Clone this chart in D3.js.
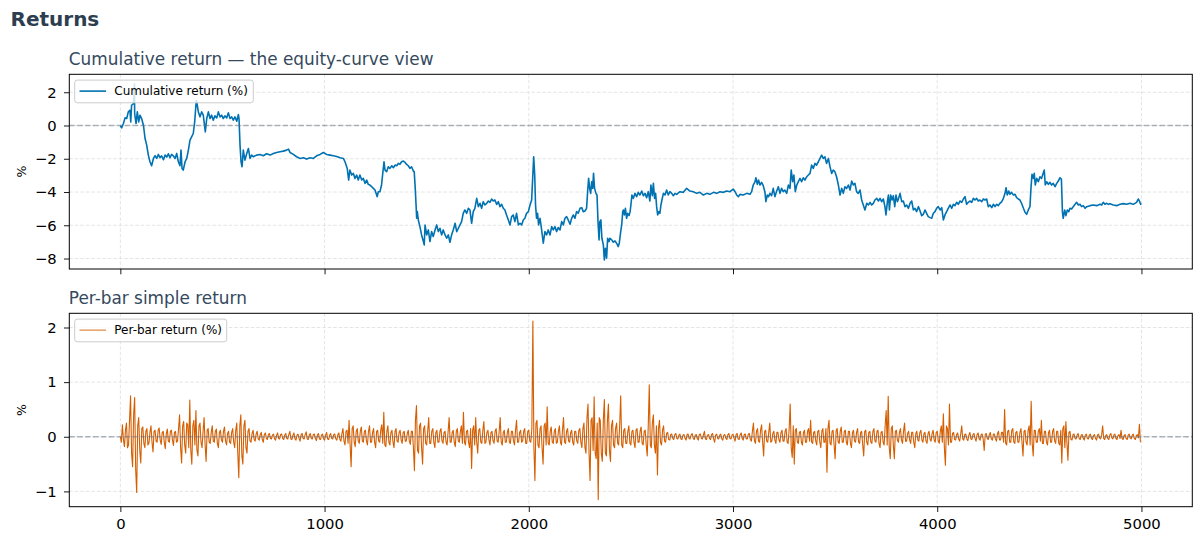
<!DOCTYPE html>
<html>
<head>
<meta charset="utf-8">
<script src="https://cdn.jsdelivr.net/npm/d3@7/dist/d3.min.js"></script>
<style>
    body { margin: 0; background: #ffffff; }
    text { font-family: "DejaVu Sans", sans-serif; }
</style>
</head>
<body>
<div id="chart"></div>
<script>
// ---------------------------------------------------------------------------
// DATOS (leídos a ojo del gráfico original)
// ---------------------------------------------------------------------------
var chartTitle = "Returns";
var cumTitle = "Cumulative return \u2014 the equity-curve view";
var retTitle = "Per-bar simple return";
var cumLabel = "Cumulative return (%)";
var retLabel = "Per-bar return (%)";

// retorno acumulado (%): barra y valor
var cumBar = [
    0, 6, 15, 23, 31, 39, 47, 51, 55, 64,
    67, 69, 70, 77, 83, 90, 96, 104, 113, 121,
    129, 137, 145, 153, 162, 170, 178, 186, 194, 202,
    211, 219, 227, 235, 243, 251, 259, 268, 276, 284,
    292, 297, 302, 308, 317, 325, 333, 341, 349, 357,
    364, 370, 372, 374, 382, 390, 398, 406, 415, 416,
    423, 431, 439, 447, 455, 463, 472, 480, 488, 496,
    504, 512, 521, 529, 537, 545, 553, 561, 570, 578,
    581, 586, 591, 596, 602, 610, 619, 627, 635, 643,
    651, 667, 684, 700, 716, 733, 749, 765, 782, 798,
    814, 823, 831, 847, 863, 880, 896, 912, 929, 945,
    961, 978, 994, 1010, 1027, 1043, 1059, 1076, 1092, 1100,
    1111, 1118, 1124, 1133, 1141, 1149, 1157, 1165,
    1173, 1182, 1190, 1198, 1206, 1214, 1222, 1231, 1239, 1247,
    1255, 1258, 1263, 1271, 1279, 1284, 1291, 1296, 1304, 1312,
    1320, 1329, 1337, 1345, 1353, 1361, 1369, 1377, 1386, 1394,
    1402, 1410, 1418, 1426, 1435, 1439, 1444, 1448, 1451, 1454,
    1459, 1467, 1475, 1484, 1488, 1492, 1500, 1508, 1516, 1524,
    1532, 1541, 1549, 1557, 1565, 1573, 1581, 1590, 1598, 1606,
    1614, 1622, 1630, 1639, 1647, 1655, 1663, 1671, 1679, 1687,
    1696, 1704, 1712, 1720, 1728, 1736, 1745, 1753, 1761, 1769,
    1777, 1785, 1794, 1802, 1810, 1818, 1826, 1834, 1843, 1851,
    1859, 1867, 1875, 1883, 1891, 1900, 1908, 1916, 1924, 1932,
    1940, 1949, 1957, 1965, 1973, 1981, 1989, 1998, 2006, 2014,
    2019, 2024, 2029, 2033, 2038, 2043, 2048, 2055, 2063, 2071,
    2079, 2087, 2095, 2104, 2112, 2120, 2128, 2136, 2144, 2153,
    2161, 2169, 2177, 2185, 2193, 2202, 2210, 2218, 2226, 2234,
    2242, 2251, 2259, 2267, 2275, 2283, 2288, 2293, 2298, 2303,
    2308, 2313, 2317, 2322, 2329, 2334, 2339, 2344, 2348, 2353,
    2358, 2365, 2370, 2375, 2381, 2386, 2393, 2397,
    2406, 2414, 2422, 2430, 2438, 2443, 2450, 2455, 2460, 2463,
    2468, 2473, 2479, 2484, 2491, 2496, 2500, 2505, 2512, 2520,
    2528, 2536, 2544, 2553, 2561, 2569, 2577, 2585, 2593, 2598,
    2605, 2610, 2616, 2621, 2626, 2631, 2637, 2642, 2647, 2652,
    2659, 2667, 2675, 2683, 2691, 2700, 2708, 2716, 2724, 2740,
    2757, 2773, 2789, 2806, 2822, 2838, 2855, 2871, 2887, 2904,
    2920, 2936, 2953, 2969, 2985, 3001, 3010, 3018, 3026, 3034,
    3050, 3067, 3083, 3091, 3099, 3108, 3112, 3119, 3125, 3132,
    3140, 3148, 3156, 3161, 3168, 3174, 3181, 3189, 3197, 3205,
    3214, 3222, 3230, 3238, 3246, 3254, 3263, 3271, 3279, 3285,
    3292, 3298, 3305, 3312, 3320, 3328, 3336, 3344, 3352, 3361,
    3369, 3377, 3385, 3393, 3401, 3409, 3418, 3426, 3434, 3442,
    3450, 3458, 3467, 3475, 3483, 3491, 3499, 3507, 3516, 3524,
    3532, 3540, 3548, 3556, 3565, 3573, 3581, 3589, 3597, 3605, 3613,
    3622, 3630, 3638, 3646, 3655, 3663, 3671, 3679, 3687, 3695,
    3704, 3712, 3720, 3728, 3736, 3744, 3749, 3756, 3761, 3766,
    3772, 3779, 3785, 3792, 3798, 3805, 3811, 3818, 3826, 3834,
    3842, 3850, 3859, 3867, 3875, 3883, 3891, 3899, 3908, 3916,
    3924, 3932, 3940, 3948, 3956, 3965, 3973, 3981, 3989, 3997,
    4005, 4014, 4022, 4030, 4038, 4046, 4054, 4063, 4071, 4079,
    4087, 4095, 4103, 4112, 4120, 4128, 4136, 4144, 4152, 4160,
    4169, 4177, 4185, 4193, 4201, 4209, 4218, 4226, 4234, 4242,
    4250, 4258, 4267, 4275, 4283, 4291, 4299, 4307, 4316, 4324,
    4332, 4337, 4343, 4350, 4356, 4364, 4373, 4381, 4389, 4397,
    4405, 4413, 4422, 4430, 4438, 4446, 4454, 4459, 4464, 4471,
    4475, 4480, 4487, 4495, 4503, 4511, 4520, 4524, 4529, 4536,
    4544, 4552, 4560, 4568, 4577, 4585, 4593, 4601, 4608, 4613,
    4617, 4624, 4630, 4637, 4644, 4650, 4658, 4666, 4675, 4683,
    4691, 4699, 4707, 4715, 4724, 4732, 4748, 4764, 4781, 4797,
    4805, 4813, 4821, 4830, 4838, 4846, 4862, 4879, 4895, 4911,
    4928, 4944, 4960, 4976, 4985, 4990, 4996, 4999
];
var cumRet = [
    0, -0.14, 0.12, 0.46, 0.42, 0.82, 0.92, 0.22, 1.22, 1.32,
    1.8, 2.5, 0.72, 0.12, 0.82, 0.22, 0.62, 0.42, 0.02, -0.78,
    -1.18, -1.78, -2.18, -2.42, -1.98, -1.82, -1.98, -1.74, -1.94, -1.82,
    -2.06, -1.78, -1.9, -1.7, -1.94, -1.74, -1.82, -1.98, -1.68, -2.18,
    -2.42, -1.48, -2.58, -2.68, -2.18, -1.98, -1.48, -0.88, -0.68, -0.48,
    0.22, 1.22, 1.52, 1.42, 0.82, 0.52, 0.82, 0.62, -0.28, -0.38,
    0.42, 0.82, 0.42, 0.62, 0.32, 0.58, 0.46, 0.82, 0.52, 0.62,
    0.42, 0.58, 0.46, 0.76, 0.42, 0.52, 0.32, 0.52, 0.26, 0.66,
    0.42, -1.18, -2.18, -2.48, -1.48, -2.08, -1.68, -1.38, -1.98, -1.78,
    -1.88, -1.78, -1.74, -1.82, -1.7, -1.78, -1.68, -1.62, -1.58, -1.54,
    -1.48, -1.42, -1.62, -1.74, -1.88, -1.98, -1.94, -2.02, -1.94, -1.98,
    -1.82, -1.74, -1.62, -1.74, -1.78, -1.82, -1.86, -1.94, -1.98, -2.18,
    -2.58, -3.28, -2.68, -2.98, -2.88, -3.18, -2.98, -3.28,
    -2.98, -3.28, -3.18, -3.48, -3.28, -3.54, -3.58, -3.68, -3.78, -3.88,
    -4.18, -4.28, -3.98, -3.98, -3.58, -2.98, -2.18, -2.68, -2.78, -2.48,
    -2.58, -2.42, -2.54, -2.38, -2.42, -2.28, -2.34, -2.18, -2.14, -2.22,
    -2.34, -2.42, -2.58, -2.48, -2.74, -2.78, -3.78, -4.78, -5.58, -5.18,
    -5.68, -6.08, -6.58, -6.98, -7.18, -5.98, -6.58, -6.28, -6.98, -6.38,
    -6.68, -6.28, -5.98, -6.38, -6.18, -6.58, -6.28, -6.58, -6.78, -6.58,
    -7.02, -6.58, -6.28, -5.88, -6.38, -6.18, -5.98, -5.78, -5.28, -5.08,
    -5.28, -4.98, -5.08, -5.88, -5.18, -4.98, -4.38, -4.88, -4.68, -4.98,
    -4.58, -4.78, -4.68, -4.54, -4.62, -4.42, -4.54, -4.48, -4.74, -4.58,
    -4.88, -4.74, -4.98, -5.08, -5.38, -5.68, -5.98, -5.48, -5.38, -5.78,
    -5.28, -5.98, -5.88, -5.98, -5.68, -5.58, -5.28, -5.18, -4.78, -4.48,
    -3.18, -1.88, -2.98, -4.78, -5.58, -5.28, -5.98, -5.58, -6.28, -7.08,
    -6.38, -6.58, -6.28, -6.58, -6.08, -6.28, -6.08, -6.38, -6.14, -6.28,
    -5.78, -5.98, -5.58, -5.48, -5.68, -5.94, -5.58, -5.38, -5.58, -5.18,
    -5.28, -4.98, -4.94, -5.18, -5.14, -4.98, -3.98, -3.18, -3.78, -4.08,
    -3.38, -3.78, -2.88, -3.78, -4.08, -4.18, -5.78, -6.88, -5.78, -5.68,
    -6.78, -7.18, -8.08, -7.38, -7.98, -6.78, -6.98, -6.78,
    -6.88, -7.02, -6.94, -7.08, -7.28, -7.08, -6.38, -5.98, -5.18, -5.08,
    -5.38, -4.98, -5.58, -5.28, -5.42, -5.18, -4.78, -4.18, -4.38, -4.08,
    -4.28, -4.02, -4.18, -3.94, -4.22, -4.08, -4.34, -3.98, -4.54, -3.58,
    -4.22, -3.48, -4.38, -4.08, -4.88, -5.38, -5.18, -5.28, -4.78, -4.48,
    -4.08, -4.18, -3.88, -4.18, -3.98, -4.08, -4.22, -4.08, -4.14, -3.98,
    -4.02, -3.78, -3.94, -3.98, -4.08, -4.02, -4.18, -4.08, -4.14, -4.02,
    -4.08, -3.98, -4.02, -3.94, -3.98, -3.82, -3.98, -4.18, -4.28, -4.14,
    -4.18, -4.08, -4.14, -3.98, -3.58, -3.38, -3.14, -3.54, -3.28, -3.58,
    -3.42, -3.62, -3.98, -4.58, -4.18, -4.28, -4.08, -4.22, -3.78, -4.28,
    -3.94, -3.68, -4.08, -3.78, -3.98, -3.88, -4.08, -3.58, -3.78, -2.68,
    -3.38, -2.98, -3.98, -3.58, -3.38, -3.18, -3.38, -3.14, -3.28, -3.08,
    -2.98, -2.88, -2.38, -2.58, -2.28, -2.38, -2.18, -1.98, -1.78, -1.98,
    -1.88, -2.28, -1.98, -2.48, -2.88, -2.68, -2.78, -3.08, -3.58, -4.18,
    -3.78, -4.08, -3.68, -3.78, -3.58, -3.88, -3.34, -3.58, -3.48, -3.98, -4.08,
    -3.88, -4.48, -4.78, -5.08, -4.68, -4.78, -4.62, -4.78, -4.68, -4.48,
    -4.38, -4.54, -4.38, -4.58, -4.42, -4.88, -5.38, -4.58, -4.18, -5.08,
    -4.18, -4.48, -4.22, -4.88, -4.18, -4.58, -4.38, -4.08, -4.58, -4.54,
    -4.88, -4.78, -4.98, -4.68, -4.54, -5.08, -4.98, -5.18, -4.88, -5.14,
    -5.42, -5.34, -5.08, -5.28, -5.48, -5.54, -5.58, -5.28, -5.18, -4.98,
    -4.88, -5.08, -4.94, -5.68, -5.38, -5.18, -4.98, -4.78, -4.98, -4.74,
    -4.82, -4.62, -4.74, -4.54, -4.62, -4.42, -4.28, -4.74, -4.62, -4.54,
    -4.62, -4.38, -4.48, -4.38, -4.54, -4.48, -4.58, -4.42, -4.48, -4.42,
    -4.88, -4.78, -4.94, -4.74, -4.88, -4.74, -4.82, -4.68, -4.58, -4.38,
    -4.08, -3.74, -4.18, -3.94, -4.14, -4.02, -4.18, -4.14, -4.34, -4.42,
    -4.48, -4.68, -4.98, -5.22, -5.34, -5.08, -4.88, -3.78, -2.94, -3.18,
    -2.88, -3.58, -3.18, -3.38, -3.08, -3.18, -2.82, -2.68, -3.58, -3.38,
    -3.54, -3.42, -3.58, -3.48, -3.68, -3.48, -3.34, -3.14, -3.22, -5.18,
    -5.58, -5.08, -5.42, -5.08, -5.18, -4.98, -5.02, -4.88, -4.74, -4.62,
    -4.78, -4.74, -4.88, -4.82, -4.98, -4.88, -4.82, -4.78, -4.82, -4.74,
    -4.78, -4.62, -4.74, -4.68, -4.74, -4.70, -4.78, -4.82, -4.74, -4.70,
    -4.74, -4.68, -4.74, -4.62, -4.42, -4.54, -4.74, -4.68
];

// retorno por barra (%): un valor cada retStep barras (40 valores = 200 barras por fila)
var retStep = 5;
var perBarRet = [
    0.0, -0.1, 0.22, -0.05, -0.18, 0.12, 0.25, -0.2, -0.15, 0.3, 0.75, -0.3, -0.55, 0.4, 0.72, -0.6, -1.02, 0.2, 0.35, -0.25,
    -0.48, 0.15, 0.18, -0.12, -0.2, 0.1, 0.15, -0.15, -0.12, 0.08, 0.2, -0.1, -0.28, 0.1, 0.12, -0.08, -0.1, 0.12, 0.16, -0.06,
    -0.14, 0.08, 0.1, -0.1, -0.22, 0.06, 0.14, -0.08, -0.1, 0.1, 0.12, -0.06, -0.16, 0.08, 0.1, -0.1, -0.08, 0.15, 0.4, -0.2,
    -0.48, 0.2, 0.28, -0.15, -0.3, 0.25, 0.22, -0.2, 0.67, -0.25, -0.5, 0.2, 0.3, -0.15, 0.48, -0.25, -0.35, 0.2, 0.25, -0.1,
    -0.2, 0.1, 0.35, -0.15, -0.45, 0.12, 0.15, -0.1, -0.12, 0.08, 0.2, -0.08, -0.1, 0.1, 0.14, -0.12, -0.2, 0.08, 0.12, -0.06,
    -0.1, 0.1, 0.18, -0.08, -0.15, 0.06, 0.1, -0.1, -0.12, 0.08, 0.15, -0.1, -0.2, 0.12, 0.25, -0.3, -0.75, 0.2, 0.4, -0.35,
    -0.5, 0.2, 0.3, -0.2, -0.3, 0.1, 0.15, -0.08, -0.1, 0.06, 0.12, -0.05, -0.08, 0.05, 0.1, -0.04, -0.06, 0.04, 0.08, -0.05,
    -0.1, 0.04, 0.07, -0.03, -0.05, 0.04, 0.06, -0.03, -0.04, 0.03, 0.05, -0.04, -0.06, 0.03, 0.07, -0.03, -0.04, 0.04, 0.05, -0.03,
    -0.05, 0.03, 0.06, -0.03, -0.04, 0.04, 0.1, -0.04, -0.05, 0.03, 0.07, -0.04, -0.06, 0.03, 0.05, -0.03, -0.08, 0.04, 0.06, -0.03,
    -0.04, 0.04, 0.09, -0.04, -0.05, 0.03, 0.06, -0.03, -0.04, 0.04, 0.05, -0.03, -0.07, 0.03, 0.06, -0.04, -0.05, 0.03, 0.05, -0.04,
    -0.06, 0.03, 0.08, -0.04, -0.05, 0.03, 0.06, -0.03, -0.04, 0.04, 0.05, -0.04, -0.06, 0.04, 0.07, -0.05, -0.08, 0.06, 0.15, -0.08,
    -0.15, 0.1, 0.12, -0.12, 0.3, -0.15, -0.55, 0.15, 0.2, -0.1, -0.18, 0.1, 0.15, -0.08, -0.12, 0.1, 0.18, -0.08, -0.1, 0.1,
    0.12, -0.08, -0.15, 0.1, 0.2, -0.1, -0.1, 0.08, 0.15, -0.1, -0.2, 0.1, 0.12, -0.08, -0.1, 0.12, 0.22, -0.12, 0.45, -0.15,
    -0.18, 0.1, 0.2, -0.1, -0.15, 0.08, 0.12, -0.1, -0.2, 0.1, 0.15, -0.08, -0.1, 0.08, 0.12, -0.06, -0.12, 0.08, 0.1, -0.08,
    -0.08, 0.06, 0.12, -0.08, -0.14, 0.1, 0.1, -0.2, -0.62, 0.3, 0.57, -0.25, -0.3, 0.2, 0.25, -0.2, -0.5, 0.15, 0.2, -0.12,
    -0.15, 0.1, 0.35, -0.12, -0.12, 0.1, 0.15, -0.1, -0.2, 0.08, 0.12, -0.1, -0.1, 0.1, 0.15, -0.08, -0.12, 0.08, 0.1, -0.1,
    -0.15, 0.1, 0.35, -0.1, -0.1, 0.08, 0.12, -0.1, -0.18, 0.1, 0.15, -0.08, -0.1, 0.1, 0.2, -0.12, 0.45, -0.1, -0.15, 0.1,
    0.12, -0.1, -0.2, 0.15, -0.58, 0.12, 0.2, -0.15, 0.35, -0.1, -0.3, 0.12, 0.15, -0.1, -0.12, 0.12, 0.28, -0.12, -0.1, 0.08,
    0.12, -0.06, -0.15, 0.08, 0.1, -0.08, -0.12, 0.1, 0.15, -0.08, -0.1, 0.1, 0.35, -0.1, -0.15, 0.08, 0.12, -0.1, -0.1, 0.08,
    0.15, -0.1, -0.12, 0.1, 0.1, -0.08, -0.15, 0.12, 0.3, -0.1, -0.1, 0.08, 0.12, -0.1, -0.08, 0.1, 0.15, -0.12, -0.12, 0.1,
    0.12, -0.08, -0.1, 0.15, 2.12, -0.2, -0.8, 0.25, 0.3, -0.15, -0.2, 0.15, 0.2, -0.2, -0.5, 0.2, 0.25, -0.15, 0.55, -0.12,
    -0.15, 0.1, 0.18, -0.1, -0.12, 0.1, 0.15, -0.12, -0.1, 0.1, 0.2, -0.1, -0.15, 0.12, 0.35, -0.1, -0.12, 0.1, 0.15, -0.08,
    -0.1, 0.08, 0.12, -0.1, -0.15, 0.1, 0.1, -0.08, -0.12, 0.12, 0.15, -0.1, -0.2, 0.15, 0.25, -0.2, -0.3, 0.35, 0.6, -0.3,
    -0.8, 0.3, 0.35, -0.25, 0.73, -0.3, -0.4, 0.25, -1.15, 0.35, 0.3, -0.3, -0.45, 0.3, 0.68, -0.3, -0.35, 0.3, 0.6, -0.25,
    -0.45, 0.2, 0.3, -0.15, -0.2, 0.15, 0.25, -0.12, -0.15, 0.2, 0.75, -0.15, -0.2, 0.12, 0.15, -0.12, -0.12, 0.1, 0.2, -0.12,
    -0.15, 0.1, 0.12, -0.1, -0.2, 0.12, 0.15, -0.1, -0.1, 0.1, 0.18, -0.12, -0.15, 0.1, 0.12, -0.15, -0.35, 0.2, 0.95, -0.15,
    -0.2, 0.25, 0.4, -0.15, -0.3, 0.2, -0.7, 0.15, 0.3, -0.1, -0.15, 0.12, 0.2, -0.08, -0.1, 0.06, 0.08, -0.05, -0.06, 0.04,
    0.05, -0.03, -0.05, 0.04, 0.06, -0.03, -0.04, 0.03, 0.05, -0.04, -0.05, 0.03, 0.04, -0.03, -0.06, 0.04, 0.05, -0.03, -0.04, 0.03,
    0.06, -0.03, -0.05, 0.03, 0.04, -0.03, -0.06, 0.04, 0.05, -0.03, -0.04, 0.03, 0.1, -0.04, -0.05, 0.03, 0.04, -0.03, -0.05, 0.04,
    0.06, -0.04, -0.1, 0.03, 0.05, -0.03, -0.04, 0.03, 0.05, -0.04, -0.06, 0.03, 0.04, -0.03, -0.05, 0.04, 0.06, -0.03, -0.04, 0.03,
    0.05, -0.03, -0.08, 0.04, 0.06, -0.04, -0.05, 0.04, 0.07, -0.03, -0.06, 0.04, 0.05, -0.04, -0.04, 0.05, 0.06, -0.05, -0.08, 0.1,
    0.25, -0.08, -0.12, 0.1, 0.15, -0.08, -0.1, 0.12, 0.22, -0.1, -0.35, 0.1, 0.12, -0.08, -0.1, 0.08, 0.25, -0.1, -0.08, 0.06,
    0.1, -0.06, -0.12, 0.08, 0.08, -0.06, -0.1, 0.08, 0.12, -0.08, -0.08, 0.1, 0.15, -0.1, -0.12, 0.15, 0.6, -0.2, -0.38, 0.2,
    -0.5, 0.12, 0.15, -0.1, -0.12, 0.08, 0.1, -0.1, -0.15, 0.08, 0.12, -0.1, -0.1, 0.1, 0.15, -0.08, 0.3, -0.1, -0.12, 0.08,
    0.1, -0.08, -0.15, 0.1, 0.12, -0.1, -0.2, 0.1, 0.15, -0.1, -0.1, 0.15, -0.65, 0.15, 0.3, -0.12, -0.15, 0.1, 0.12, -0.15,
    -0.4, 0.12, 0.15, -0.1, -0.12, 0.1, 0.18, -0.1, -0.1, 0.1, 0.12, -0.1, -0.15, 0.1, 0.1, -0.12, -0.2, 0.08, 0.12, -0.08,
    -0.1, 0.08, 0.15, -0.1, -0.12, 0.08, 0.1, -0.15, -0.35, 0.1, 0.12, -0.1, -0.15, 0.08, 0.1, -0.1, -0.12, 0.1, 0.15, -0.08,
    -0.1, 0.1, 0.12, -0.12, -0.2, 0.08, 0.1, -0.1, -0.15, 0.2, 0.48, -0.15, 0.74, -0.2, -0.4, 0.15, 0.2, -0.15, -0.4, 0.1,
    0.12, -0.06, -0.1, 0.08, 0.15, -0.06, -0.12, 0.1, 0.25, -0.08, -0.08, 0.06, 0.1, -0.06, -0.12, 0.08, 0.08, -0.1, -0.2, 0.06,
    0.1, -0.06, -0.08, 0.08, 0.12, -0.06, -0.1, 0.06, 0.08, -0.08, -0.12, 0.06, 0.1, -0.05, -0.08, 0.06, 0.12, -0.06, -0.1, 0.08,
    0.1, -0.08, -0.12, 0.1, 0.2, -0.1, 0.42, -0.2, -0.52, 0.2, 0.15, -0.15, 0.6, -0.1, -0.1, 0.06, 0.08, -0.05, -0.06, 0.04,
    0.07, -0.04, -0.08, 0.05, 0.2, -0.04, -0.06, 0.04, 0.05, -0.04, -0.07, 0.03, 0.08, -0.04, -0.05, 0.04, 0.06, -0.03, -0.08, 0.04,
    0.07, -0.04, -0.06, 0.04, 0.05, -0.04, -0.25, 0.04, 0.06, -0.03, -0.05, 0.04, 0.08, -0.04, -0.06, 0.05, 0.05, -0.04, -0.08, 0.06,
    0.1, -0.06, -0.06, 0.08, 0.08, -0.1, 0.5, -0.12, -0.15, 0.1, 0.12, -0.1, -0.1, 0.12, 0.15, -0.1, -0.12, 0.08, 0.1, -0.1,
    -0.1, 0.08, 0.15, -0.1, -0.35, 0.1, 0.12, -0.1, -0.15, 0.12, 0.2, -0.15, 0.65, -0.12, -0.35, 0.12, 0.12, -0.1, -0.1, 0.1,
    0.15, -0.08, 0.3, -0.12, -0.12, 0.1, 0.1, -0.1, -0.15, 0.08, 0.12, -0.1, -0.1, 0.1, 0.15, -0.08, -0.12, 0.1, 0.1, -0.12,
    -0.15, 0.12, -0.48, 0.15, 0.2, -0.2, 0.28, -0.1, -0.43, 0.08, 0.1, -0.05, -0.06, 0.04, 0.05, -0.03, -0.04, 0.03, 0.06, -0.03,
    -0.05, 0.03, 0.04, -0.03, -0.06, 0.03, 0.05, -0.03, -0.04, 0.03, 0.05, -0.03, -0.05, 0.02, 0.04, -0.03, -0.06, 0.03, 0.05, -0.02,
    -0.04, 0.03, 0.2, -0.03, -0.05, 0.02, 0.04, -0.03, -0.05, 0.03, 0.06, -0.02, -0.04, 0.03, 0.05, -0.03, -0.05, 0.02, 0.04, -0.03,
    0.12, -0.03, -0.05, 0.02, 0.04, -0.03, -0.05, 0.03, 0.05, -0.02, -0.04, 0.03, 0.05, -0.03, -0.05, 0.02, 0.04, -0.02, 0.23, -0.1
];

// ticks
var xTicks = [0, 1000, 2000, 3000, 4000, 5000];
var cumTicks = [-8, -6, -4, -2, 0, 2];
var retTicks = [-1, 0, 1, 2];

// ---------------------------------------------------------------------------
// DIBUJO
// ---------------------------------------------------------------------------
var w = 1203;
var h = 544;
var left = 69.3;
var right = 1192.3;

var svg = d3
    .select("#chart")
    .append("svg")
    .attr("width", w)
    .attr("height", h);

svg.append("rect").attr("width", w).attr("height", h).attr("fill", "#ffffff");

// título general
svg.append("text")
    .attr("x", 10.5)
    .attr("y", 26)
    .attr("font-size", "20px")
    .attr("font-weight", "bold")
    .attr("fill", "#2c3e50")
    .text(chartTitle);

var x = d3.scaleLinear().domain([-250, 5249]).range([left, right]);

// formato con signo menos tipográfico, como en el original
function fmt(d) {
    return d < 0 ? "\u2212" + Math.abs(d) : String(d);
}

function panel(p) {
    var g = svg.append("g");
    var y = d3.scaleLinear().domain(p.yDomain).range([p.bottom, p.top]);

    // rejilla
    g.selectAll(".vg")
        .data(xTicks)
        .enter()
        .append("line")
        .attr("x1", (d) => x(d))
        .attr("x2", (d) => x(d))
        .attr("y1", p.top)
        .attr("y2", p.bottom)
        .attr("stroke", "#dddddd")
        .attr("stroke-width", 0.8)
        .attr("stroke-dasharray", "3.5,2");
    g.selectAll(".hg")
        .data(p.yTicks)
        .enter()
        .append("line")
        .attr("x1", left)
        .attr("x2", right)
        .attr("y1", (d) => y(d))
        .attr("y2", (d) => y(d))
        .attr("stroke", "#dddddd")
        .attr("stroke-width", 0.8)
        .attr("stroke-dasharray", "3.5,2");

    // serie
    var line = d3
        .line()
        .x((d) => x(d[0]))
        .y((d) => y(d[1]));

    g.append("path")
        .datum(p.data)
        .attr("fill", "none")
        .attr("stroke", p.color)
        .attr("stroke-width", p.lw)
        .attr("stroke-linejoin", "round")
        .attr("d", line);

    // línea de cero
    g.append("line")
        .attr("x1", left)
        .attr("x2", right)
        .attr("y1", y(0))
        .attr("y2", y(0))
        .attr("stroke", "#5d6d7e")
        .attr("stroke-opacity", 0.5)
        .attr("stroke-width", 1.5)
        .attr("stroke-dasharray", "5.5,2.4");

    // marco
    g.append("rect")
        .attr("x", left)
        .attr("y", p.top)
        .attr("width", right - left)
        .attr("height", p.bottom - p.top)
        .attr("fill", "none")
        .attr("stroke", "#000000")
        .attr("stroke-width", 1);

    // ejes
    var ax = g.append("g")
        .attr("transform", "translate(0," + p.bottom + ")")
        .call(d3.axisBottom(x).tickValues(xTicks).tickSize(5.3).tickPadding(7)
            .tickFormat(p.showX ? fmt : () => ""));
    var ay = g.append("g")
        .attr("transform", "translate(" + left + ",0)")
        .call(d3.axisLeft(y).tickValues(p.yTicks).tickSize(5.3).tickPadding(7.3).tickFormat(fmt));
    [ax, ay].forEach(function (a) {
        a.select(".domain").remove();
        a.selectAll("line").attr("stroke", "#000000").attr("stroke-width", 0.9);
        a.selectAll("text")
            .attr("fill", "#000000")
            .attr("font-size", "14.8px")
            .attr("font-family", "DejaVu Sans, sans-serif");
    });

    // etiqueta y
    var cy = (p.top + p.bottom) / 2;
    g.append("text")
        .attr("transform", "translate(25.5," + cy + ") rotate(-90)")
        .attr("text-anchor", "middle")
        .attr("font-size", "12.5px")
        .attr("fill", "#000000")
        .text("%");

    // subtítulo
    g.append("text")
        .attr("x", left - 0.5)
        .attr("y", p.top - 9.5)
        .attr("font-size", "16.9px")
        .attr("fill", "#34495e")
        .text(p.title);

    // leyenda
    var lg = g.append("g");
    lg.append("rect")
        .attr("x", 74.7)
        .attr("y", p.top + 5.8)
        .attr("width", p.legendW)
        .attr("height", 22.7)
        .attr("rx", 2.5)
        .attr("fill", "#ffffff")
        .attr("fill-opacity", 0.8)
        .attr("stroke", "#cccccc")
        .attr("stroke-width", 1);
    lg.append("line")
        .attr("x1", 79.5)
        .attr("x2", 106)
        .attr("y1", p.top + 16.8)
        .attr("y2", p.top + 16.8)
        .attr("stroke", p.color)
        .attr("stroke-width", p.legendLw);
    lg.append("text")
        .attr("x", 114.3)
        .attr("y", p.top + 21)
        .attr("font-size", "12px")
        .attr("fill", "#000000")
        .text(p.label);
}

// panel superior: retorno acumulado
panel({
    top: 74.3,
    bottom: 269,
    yDomain: [-8.63, 3.08],
    yTicks: cumTicks,
    data: cumBar.map((b, i) => [b, cumRet[i]]),
    color: "#0072B2",
    lw: 1.6,
    legendLw: 1.6,
    title: cumTitle,
    label: cumLabel,
    legendW: 178.6,
    showX: false
});

// panel inferior: retorno por barra
panel({
    top: 313.3,
    bottom: 506.7,
    yDomain: [-1.28, 2.26],
    yTicks: retTicks,
    data: perBarRet.map((v, i) => [i * retStep, v]),
    color: "#D55E00",
    lw: 1.1,
    legendLw: 0.9,
    title: retTitle,
    label: retLabel,
    legendW: 152,
    showX: true
});
</script>
</body>
</html>
